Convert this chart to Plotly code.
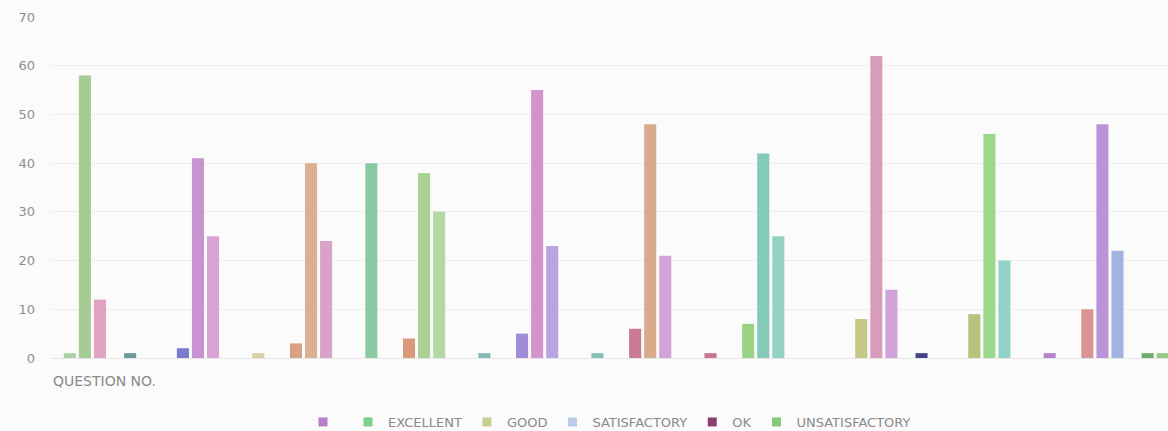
import plotly.graph_objects as go

# ---- data ----
questions = [1, 2, 3, 4, 5, 6, 7, 8, 9, 10]
series_names = ["", "EXCELLENT", "GOOD", "SATISFACTORY", "OK", "UNSATISFACTORY"]
question_no = [1, 2, 3, 4, 5, 6, 7, 8, 9, 10]
excellent = [58, 41, 40, 38, 55, 48, 42, 62, 46, 48]
good = [12, 25, 24, 30, 23, 21, 25, 14, 20, 22]
satisfactory = [0, 0, 0, 0, 0, 0, 0, 0, 0, 0]
ok = [1, 0, 0, 0, 0, 0, 0, 1, 0, 1]
unsatisfactory = [0, 1, 40, 1, 1, 1, 0, 0, 1, 1]
y_ticks = [0, 10, 20, 30, 40, 50, 60, 70]

# ---- styles ----
legend_colors = ["#b77fc9", "#7fcf8c", "#c7cf8e", "#b9cbe9", "#8b3f70", "#86c978"]
point_colors = [
    ["#a9d2a2", "#7a7ad0", "#d9a183", "#d89a7a", "#a18ad8", "#c97b93", "#9ad283", "#c4c884", "#b9c27c", "#d99393"],
    ["#a6cc94", "#c893d1", "#d9b192", "#a9d292", "#d294c9", "#d9ab8c", "#83cab9", "#d99bba", "#9ad98b", "#ba93d8"],
    ["#e1a3c2", "#d8a3d2", "#d9a3c9", "#b2d9a3", "#baa3e1", "#d1a3d8", "#93d2c2", "#d2a3d9", "#93d2c9", "#a3b2e1"],
    ["#b9cbe9"] * 10,
    ["#6a9a9a", "#8b3f70", "#8b3f70", "#8b3f70", "#8b3f70", "#8b3f70", "#8b3f70", "#44448a", "#8b3f70", "#72aa72"],
    ["#86c978", "#d9d1a3", "#8acaa3", "#83bab3", "#83c2b3", "#c97393", "#86c978", "#86c978", "#b383ca", "#93ca83"],
]

all_series = [question_no, excellent, good, satisfactory, ok, unsatisfactory]
x_pos = [q - 1 for q in questions]

fig = go.Figure()
for name, vals, cols in zip(series_names, all_series, point_colors):
    fig.add_trace(go.Bar(
        x=x_pos, y=vals, name=name, showlegend=False,
        marker=dict(color=cols, line=dict(width=0)),
    ))

# legend entries
for name, col in zip(series_names, legend_colors):
    fig.add_trace(go.Scatter(
        x=[None], y=[None], mode="markers", name=name,
        marker=dict(symbol="square", size=9, color=col),
    ))

FONT = "DejaVu Sans, Liberation Sans, sans-serif"
fig.update_layout(
    width=1168, height=431,
    paper_bgcolor="#fbfbfb", plot_bgcolor="#fbfbfb",
    barmode="group", bargap=0.2, bargroupgap=0.2,
    margin=dict(l=51, r=0, t=17, b=73, autoexpand=False),
    font=dict(family=FONT, color="#8a8a8a", size=13),
    showlegend=True,
    legend=dict(orientation="h", x=0.5, xanchor="center",
                yref="container", y=9 / 431, yanchor="middle",
                font=dict(family=FONT, size=13, color="#8a8a8a"), itemwidth=30,
                bgcolor="rgba(0,0,0,0)"),
    xaxis=dict(range=[-0.5, 9.38], showticklabels=False, showgrid=False,
               zeroline=False, showline=True, linecolor="#e6e6e6", ticks=""),
    yaxis=dict(range=[0, 70], tickvals=y_ticks, showgrid=True, gridcolor="#eeeeee",
               zeroline=False, showline=False, ticks="", ticklabelstandoff=15,
               tickfont=dict(family=FONT, size=13, color="#8f8f8f")),
    annotations=[dict(text="QUESTION NO.", xref="paper", yref="paper", x=0.0, y=-0.068,
                      xanchor="left", yanchor="middle", showarrow=False,
                      font=dict(family=FONT, size=14, color="#8a8a8a"))],
)

fig.write_html("out.html", config={"displayModeBar": False},
               post_script="document.body.style.margin='0';")
